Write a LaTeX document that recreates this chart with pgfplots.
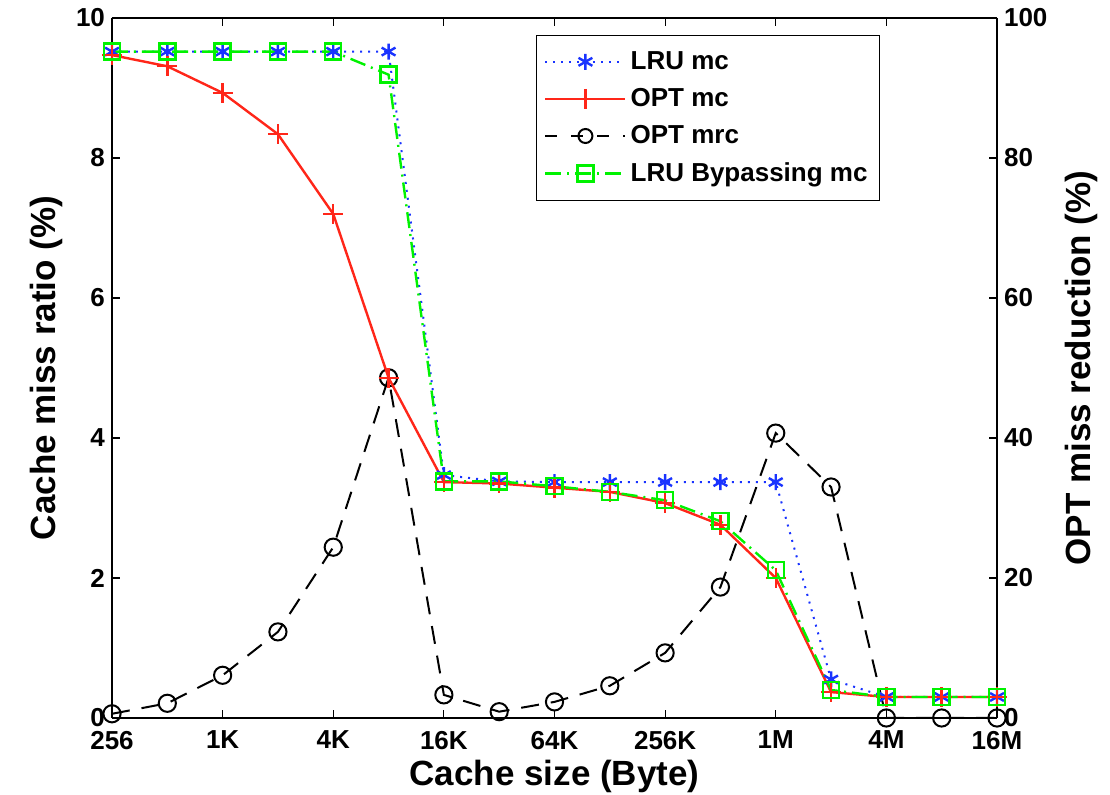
\documentclass[border=0pt]{standalone}
\usepackage{fontspec}
\setmainfont{Liberation Sans}
\usepackage{pgfplots}
\pgfplotsset{compat=1.18}

\definecolor{lrublue}{rgb}{0.1,0.2,1}
\definecolor{optred}{rgb}{1,0.15,0.1}
\definecolor{bypgreen}{rgb}{0,0.95,0}

\pgfplotsset{
  common/.style={
    scale only axis, width=442.5pt, height=350pt,
    at={(0,0)}, anchor=south west,
    xmin=0, xmax=16,
    /pgf/number format/assume math mode=true,
    tick label style={font=\bfseries\fontsize{13}{15}\selectfont},
    label style={font=\bfseries\fontsize{17.5}{20}\selectfont},
    major tick length=4pt,
    tick style={black, line width=0.6pt},
    axis line style={line width=0.8pt},
  }
}

\begin{document}
\begin{tikzpicture}
\useasboundingbox (-56pt,-38.5pt) rectangle (499pt,359pt);

% right axis: OPT miss reduction
\begin{axis}[common,
  axis x line=none,
  axis y line*=right,
  ymin=0, ymax=100,
  ytick={0,20,...,100},
  ylabel={OPT miss reduction (\%)},
  ylabel style={yshift=-2pt},
]
\addplot[black, line width=1pt, dash pattern=on 9pt off 6pt,
  mark=o, mark size=4.3pt, mark options={solid, line width=1pt}] coordinates {
  (0,0.6) (1,2.1) (2,6.1) (3,12.3) (4,24.4) (5,48.6) (6,3.3) (7,0.9)
  (8,2.3) (9,4.6) (10,9.3) (11,18.7) (12,40.7) (13,33.0) (14,0) (15,0) (16,0)
};
\end{axis}

% left axis: miss ratios
\begin{axis}[common,
  axis y line*=left,
  axis x line*=box,
  ymin=0, ymax=10,
  ytick={0,2,...,10},
  xtick={0,2,...,16},
  xticklabels={256,1K,4K,16K,64K,256K,1M,4M,16M},
  xtick pos=both, ytick pos=left,
  tick align=inside,
  xticklabel style={yshift=-3pt},
  xlabel={Cache size (Byte)},
  ylabel={Cache miss ratio (\%)},
  xlabel style={yshift=1.5pt},
  legend image code/.code={
    \draw[mark repeat=2,mark phase=2] plot coordinates {(0pt,0pt) (20pt,0pt) (40pt,0pt)};},
  legend style={at={(0.868,0.976)}, anchor=north east, draw=black, line width=0.6pt,
    font=\bfseries\fontsize{13}{15}\selectfont, row sep=4pt,
    inner xsep=4pt, inner ysep=6pt, cells={anchor=west}},
]
\addplot[lrublue, line width=1pt, dash pattern=on 1pt off 3pt,
  mark=asterisk, mark size=4pt, mark options={solid, line width=1.2pt}] coordinates {
  (0,9.52) (1,9.52) (2,9.52) (3,9.52) (4,9.52) (5,9.52) (6,3.47) (7,3.38)
  (8,3.37) (9,3.37) (10,3.37) (11,3.37) (12,3.37) (13,0.55) (14,0.30) (15,0.30) (16,0.30)
};
\addlegendentry{LRU mc}
\addplot[optred, line width=1.2pt, solid,
  mark=+, mark size=5pt, mark options={solid, line width=1.2pt}] coordinates {
  (0,9.47) (1,9.31) (2,8.93) (3,8.34) (4,7.20) (5,4.86) (6,3.37) (7,3.35)
  (8,3.29) (9,3.23) (10,3.07) (11,2.76) (12,2.00) (13,0.37) (14,0.30) (15,0.30) (16,0.30)
};
\addlegendentry{OPT mc}
\addlegendimage{black, line width=1pt, dash pattern=on 6pt off 7pt,
  mark=o, mark size=3.5pt, mark options={solid, line width=1pt}}
\addlegendentry{OPT mrc}
\addplot[bypgreen, line width=1.2pt, dash pattern=on 8pt off 3pt on 1pt off 3pt,
  mark=square, mark size=4pt, mark options={solid, line width=1.2pt}] coordinates {
  (0,9.52) (1,9.52) (2,9.52) (3,9.52) (4,9.52) (5,9.19) (6,3.38) (7,3.38)
  (8,3.31) (9,3.23) (10,3.11) (11,2.81) (12,2.11) (13,0.40) (14,0.30) (15,0.30) (16,0.30)
};
\addlegendentry{LRU Bypassing mc}
\end{axis}
\end{tikzpicture}
\end{document}
